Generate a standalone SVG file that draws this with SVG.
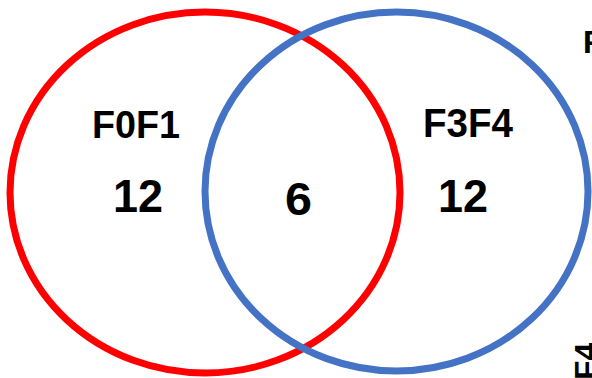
<svg xmlns="http://www.w3.org/2000/svg" width="592" height="378" viewBox="0 0 592 378">
<style>
.set{fill:none;stroke-width:7}
.lbl{font-family:"Liberation Sans",Arial,sans-serif;font-weight:bold;fill:#000}
</style>
<rect width="592" height="378" fill="#fff"/>
<g id="set-f0f1">
<ellipse class="set" cx="205" cy="192.5" rx="195" ry="180.5" stroke="#FF0000"/>
</g>
<g id="set-f3f4">
<ellipse class="set" cx="396.5" cy="191.5" rx="191.5" ry="179.5" stroke="#4472C4"/>
</g>
<g id="labels">
<text class="lbl" x="92" y="138" font-size="39" textLength="88" lengthAdjust="spacingAndGlyphs">F0F1</text>
<text class="lbl" x="113" y="212" font-size="47" textLength="50" lengthAdjust="spacingAndGlyphs">12</text>
<text class="lbl" x="285" y="215" font-size="47" textLength="27" lengthAdjust="spacingAndGlyphs">6</text>
<text class="lbl" x="423" y="137" font-size="41" textLength="90" lengthAdjust="spacingAndGlyphs">F3F4</text>
<text class="lbl" x="438" y="212" font-size="47" textLength="50" lengthAdjust="spacingAndGlyphs">12</text>
<text class="lbl" x="583" y="53" font-size="32">F</text>
<text class="lbl" x="0" y="0" font-size="32" transform="translate(597 380) rotate(-90)">F4</text>
</g>
</svg>
